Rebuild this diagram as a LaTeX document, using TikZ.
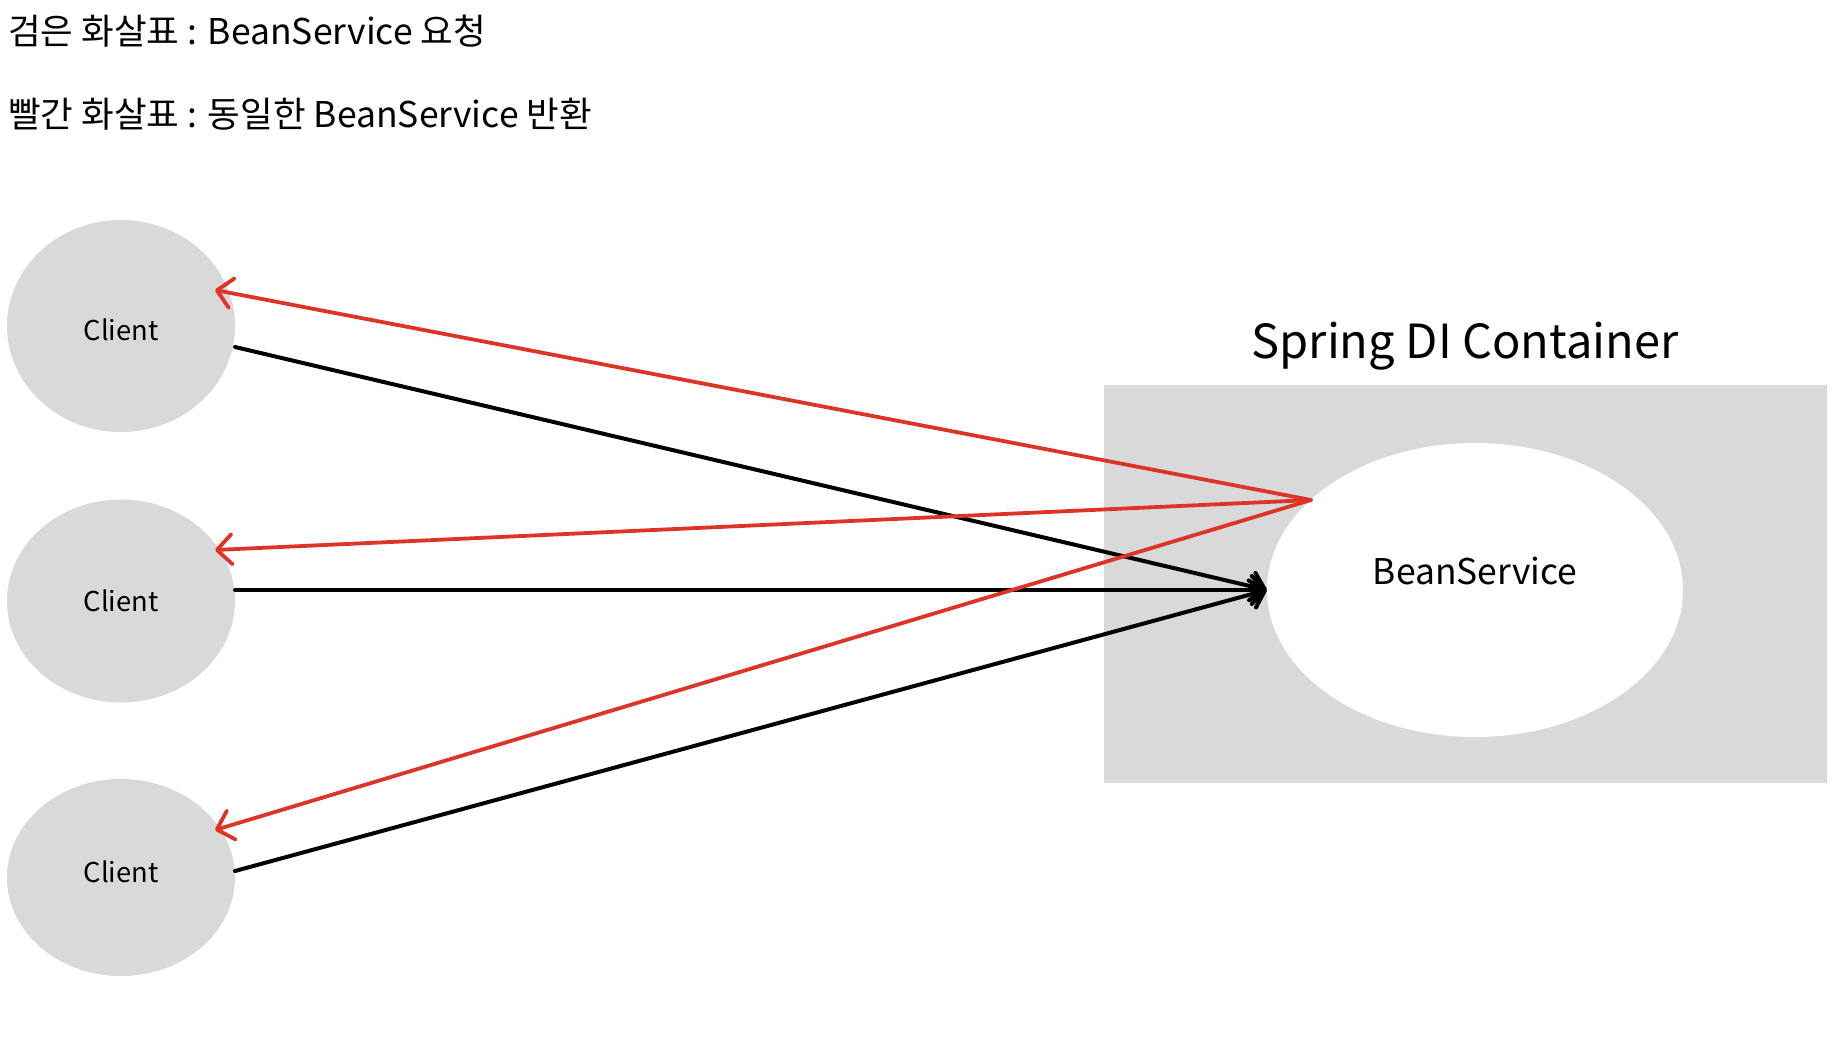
\documentclass[tikz,border=0pt]{standalone}
\usepackage{fontspec}
\setmainfont{Noto Sans CJK KR}
\usetikzlibrary{shapes.geometric,arrows.meta,calc}
\definecolor{boxgray}{HTML}{D9D9D9}
\definecolor{retred}{HTML}{DC3527}
\begin{document}
\begin{tikzpicture}[x=1pt,y=-1pt,
  clientnode/.style={ellipse, fill=boxgray, inner sep=0pt, minimum width=228pt, minimum height=#1},
  clientlabel/.style={inner sep=0pt, font=\fontsize{27.3}{32}\selectfont},
  reqarrow/.style={draw=black, line width=4pt, line cap=round, -{Straight Barb[length=13pt,width=28pt,round]}},
  retarrow/.style={draw=retred, line width=3.8pt, line cap=round, -{Straight Barb[length=15pt,width=30pt,round]}},
  headtext/.style={anchor=west, inner sep=0pt, font=\fontsize{35.5}{42}\selectfont}
]
\useasboundingbox[fill=white] (0,0) rectangle (1844,1044);

\node[headtext] (h1) at (8,31) {검은 화살표 : BeanService 요청};
\node[headtext] (h2) at (8,114) {빨간 화살표 : 동일한 BeanService 반환};

\node[fill=boxgray, inner sep=0pt, minimum width=723pt, minimum height=398pt] (cont) at (1465.5,584) {};
\node[font=\fontsize{47}{56}\selectfont, inner sep=0pt] (title) at (1465,346) {Spring DI Container};
\node[ellipse, fill=white, inner sep=0pt, minimum width=416pt, minimum height=294pt] (bs) at (1475,590) {};
\node[font=\fontsize{35.4}{42}\selectfont, inner sep=0pt] (bstext) at (1475,571) {BeanService};

\node[clientnode=212pt] (c1) at (121,326) {};
\node[clientnode=203pt] (c2) at (121,601) {};
\node[clientnode=197pt] (c3) at (121,877.5) {};
\node[clientlabel] (l1) at ($(c1.center)+(0,4)$) {Client};
\node[clientlabel] (l2) at ($(c2.center)+(0,0)$) {Client};
\node[clientlabel] (l3) at ($(c3.center)+(0,-6)$) {Client};

\coordinate (rs) at ($(bs.center)+(-164,-90)$);

\draw[reqarrow] ($(c1.center)+(114,21)$) -- (bs.west);
\draw[reqarrow] ($(c2.center)+(114,-11)$) -- (bs.west);
\draw[reqarrow] ($(c3.center)+(114,-6.5)$) -- (bs.west);

\draw[retarrow] (rs) -- ($(c1.center)+(94,-36)$);
\draw[retarrow] (rs) -- ($(c2.center)+(94,-51)$);
\draw[retarrow] (rs) -- ($(c3.center)+(94,-47.5)$);
\end{tikzpicture}
\end{document}
